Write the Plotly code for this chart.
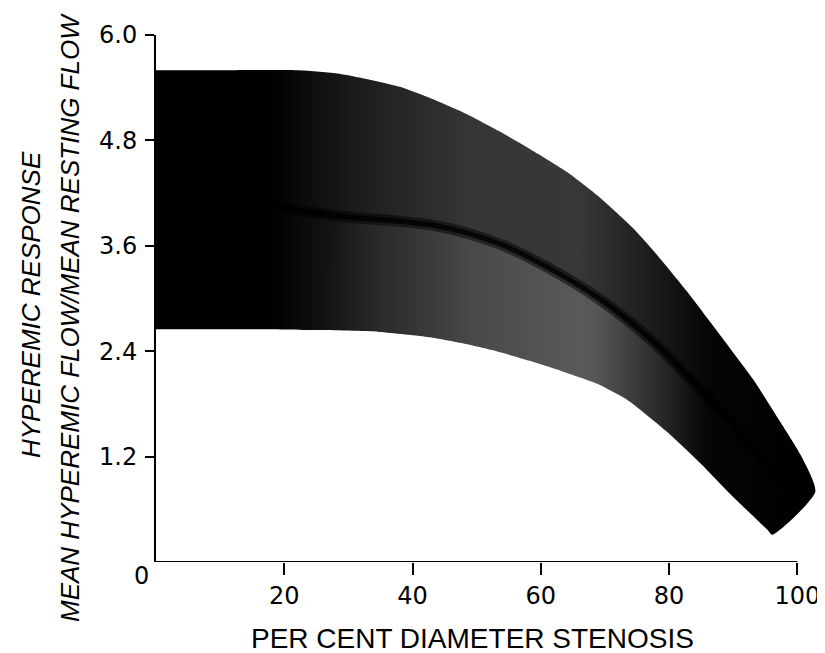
import plotly.graph_objects as go

# ---- data ----
upper_x = [0, 10, 22.3, 28.6, 38.0, 43.1, 48.4, 53.6, 58.8, 64.1, 69.2, 74.4, 77.5, 82.8, 88.0, 93.1, 97.3, 100.5, 102.8]
upper_y = [5.6, 5.6, 5.6, 5.56, 5.41, 5.27, 5.10, 4.90, 4.68, 4.44, 4.15, 3.80, 3.55, 3.08, 2.58, 2.08, 1.60, 1.22, 0.80]
lower_x = [0, 15, 25, 34.8, 42.7, 47.8, 53.1, 58.3, 63.4, 68.8, 73.4, 79.7, 84.8, 90.0, 95.3, 96.1]
lower_y = [2.65, 2.65, 2.64, 2.62, 2.56, 2.49, 2.40, 2.29, 2.17, 2.03, 1.85, 1.48, 1.13, 0.74, 0.37, 0.31]
center_x = [14.5, 28.6, 44.2, 53.6, 61.4, 69.2, 77.0, 84.8, 92.7, 98.9]
center_y = [4.08, 3.94, 3.82, 3.62, 3.34, 2.99, 2.54, 1.97, 1.34, 0.77]

y_ticks = [1.2, 2.4, 3.6, 4.8, 6.0]
y_tick_text = ["1.2", "2.4", "3.6", "4.8", "6.0"]
x_ticks = [20, 40, 60, 80, 100]
x_tick_text = ["20", "40", "60", "80", "100"]

# page body has an 8px margin in the browser
OFF = 8
W, H = 825 - OFF, 653 - OFF
ML, MR, MT, MB = 148, 2, 27, 91

fig = go.Figure()


def clip(xs, ys, lo, hi):
    pts = [(x, y) for x, y in zip(xs, ys) if lo <= x <= hi]
    return [p[0] for p in pts], [p[1] for p in pts]


# main band
band_x = upper_x + lower_x[::-1]
band_y = upper_y + lower_y[::-1]
fig.add_trace(go.Scatter(
    x=band_x, y=band_y, mode="lines", fill="toself",
    line=dict(width=0, color="rgba(0,0,0,0)", shape="spline", smoothing=0.6),
    fillgradient=dict(type="horizontal", start=0, stop=102.8,
                      colorscale=[[0, "#000000"], [0.17, "#000000"], [0.33, "#202020"],
                                  [0.48, "#363636"], [0.64, "#383838"], [0.75, "#1c1c1c"],
                                  [0.84, "#050505"], [1, "#000000"]]),
    hoverinfo="skip", showlegend=False))

# lighter lower half in the middle
cx, cy = clip(center_x, center_y, 20, 85)
lx_, ly_ = clip(lower_x, lower_y, 20, 85)
fig.add_trace(go.Scatter(
    x=cx + lx_[::-1], y=cy + ly_[::-1], mode="lines", fill="toself",
    line=dict(width=0, color="rgba(0,0,0,0)", shape="spline", smoothing=0.6),
    fillgradient=dict(type="horizontal",
                      colorscale=[[0, "rgba(255,255,255,0)"], [0.35, "rgba(255,255,255,0.08)"],
                                  [0.72, "rgba(255,255,255,0.18)"], [1, "rgba(255,255,255,0)"]]),
    hoverinfo="skip", showlegend=False))

# dark centre line
fig.add_trace(go.Scatter(x=center_x, y=center_y, mode="lines",
                         line=dict(color="rgba(0,0,0,0.5)", width=11, shape="spline"),
                         hoverinfo="skip", showlegend=False))
fig.add_trace(go.Scatter(x=center_x, y=center_y, mode="lines",
                         line=dict(color="rgba(0,0,0,0.8)", width=5, shape="spline"),
                         hoverinfo="skip", showlegend=False))

# x axis line only to 100
fig.add_shape(type="line", x0=0, x1=100, y0=0, y1=0, xref="x", yref="y",
              line=dict(color="black", width=2), layer="above")

tick_font = dict(family="DejaVu Sans, Arial, sans-serif", size=24, color="black")

fig.update_xaxes(range=[0, 104], showline=False, showgrid=False, zeroline=False,
                 tickmode="array", tickvals=x_ticks, ticktext=x_tick_text,
                 ticks="outside", ticklen=12, tickwidth=2, tickcolor="black",
                 tickfont=tick_font, ticklabelstandoff=0)
fig.update_yaxes(range=[0, 6.0], showline=True, linewidth=2, linecolor="black",
                 showgrid=False, zeroline=False,
                 tickmode="array", tickvals=y_ticks, ticktext=y_tick_text,
                 ticks="outside", ticklen=9, tickwidth=2, tickcolor="black",
                 tickfont=tick_font, ticklabelstandoff=3)

pw = W - ML - MR
ph = H - MT - MB


def px(xpix):
    return (xpix - OFF - ML) / pw


def py(ypix):
    return (H - MB - (ypix - OFF)) / ph


title_font = dict(family="Liberation Sans, Arial, sans-serif", size=26, color="black", style="italic")
annotations = [
    dict(text="0", x=0, y=0, xref="x", yref="y", xanchor="right", yanchor="top",
         xshift=-5, yshift=2, showarrow=False, font=tick_font),
    dict(text="PER CENT DIAMETER STENOSIS", x=px(472), y=py(638), xref="paper", yref="paper",
         xanchor="center", yanchor="middle", showarrow=False,
         font=dict(family="Liberation Sans, Arial, sans-serif", size=28, color="black")),
    dict(text="HYPEREMIC RESPONSE", x=px(31), y=py(305), xref="paper", yref="paper",
         xanchor="center", yanchor="middle", textangle=-90, showarrow=False, font=title_font),
    dict(text="MEAN HYPEREMIC FLOW/MEAN RESTING FLOW", x=px(70), y=py(318), xref="paper", yref="paper",
         xanchor="center", yanchor="middle", textangle=-90, showarrow=False, font=title_font),
]

fig.update_layout(width=W, height=H, margin=dict(l=ML, r=MR, t=MT, b=MB),
                  paper_bgcolor="white", plot_bgcolor="white",
                  annotations=annotations, showlegend=False)

fig.write_html("out.html")
